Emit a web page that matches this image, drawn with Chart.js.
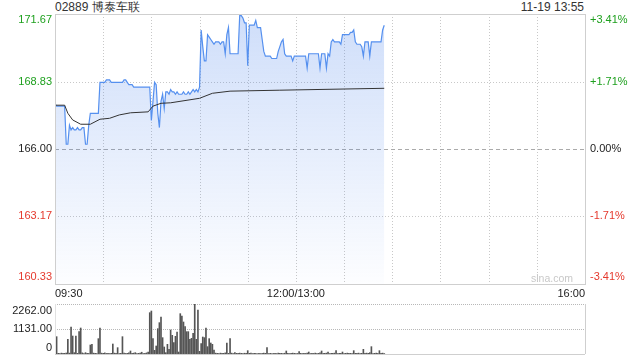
<!DOCTYPE html>
<html>
<head>
<meta charset="utf-8">
<script src="https://cdn.jsdelivr.net/npm/chart.js@4.4.1/dist/chart.umd.min.js"></script>
<style>
body { margin: 0; background: #fff; width: 640px; height: 360px; overflow: hidden; position: relative; font-family: "Liberation Sans", Arial, sans-serif; }
#main { position: absolute; left: 0; top: 0; }
#vol { position: absolute; left: 0; top: 290px; }
.t { position: absolute; font-size: 12px; color: #333; white-space: nowrap; line-height: 14px; }
</style>
</head>
<body>
<div class="t" style="left:55px;top:0px">02889 博泰车联</div>
<div class="t" style="right:56px;top:0px">11-19 13:55</div>
<canvas id="main" width="640" height="300"></canvas>
<canvas id="vol" width="640" height="70"></canvas>
<script>
// minutes since 09:30, lunch break folded (index 150 = 12:00/13:00)
var prevClose = 166.00;
var priceTicks = [160.33, 163.17, 166.00, 168.83, 171.67];
var pctTicks = ['-3.41%', '-1.71%', '0.00%', '+1.71%', '+3.41%'];
var timeLabels = [[0, '09:30'], [150, '12:00/13:00'], [330, '16:00']];
var volTicks = [0, 1131, 2262];
var volTickLabels = ['0', '1131.00', '2262.00'];

var price = [
    167.9, 167.8, 167.8, 167.8, 167.8, 167.8, 167.8, 166.2, 166.2, 167.0,
    166.8, 166.9, 166.8, 166.8, 166.9, 166.8, 166.8, 166.9, 166.9, 166.2,
    166.2, 167.0, 167.5, 167.5, 167.5, 167.5, 167.5, 167.5, 168.8, 168.8,
    168.8, 168.8, 168.9, 168.9, 168.9, 168.8, 168.8, 168.8, 168.8, 168.8,
    168.8, 168.8, 168.8, 168.9, 168.9, 168.8, 168.7, 168.7, 168.7, 168.6,
    168.6, 168.6, 168.6, 168.6, 168.6, 168.6, 168.6, 168.6, 168.6, 168.6,
    167.2, 168.0, 168.8, 168.7, 167.5, 166.9, 168.0, 168.3, 167.7, 168.4,
    168.4, 168.3, 168.5, 168.4, 168.4, 168.3, 168.4, 168.3, 168.3, 168.3,
    168.4, 168.3, 168.3, 168.4, 168.3, 168.4, 168.5, 168.4, 168.5, 168.4,
    168.6, 171.0, 170.3, 169.7, 169.7, 170.8, 170.7, 170.6, 170.5, 170.4,
    170.5, 170.5, 170.5, 170.4, 170.5, 170.5, 170.0, 170.8, 171.1, 170.0,
    170.0, 170.0, 170.0, 170.0, 170.0, 171.6, 171.6, 171.5, 171.3, 171.3,
    169.5, 171.2, 171.2, 171.2, 171.2, 171.4, 171.1, 171.1, 171.1, 170.6,
    170.1, 169.9, 169.9, 169.9, 169.9, 169.8, 169.8, 169.8, 169.8, 170.1,
    170.3, 170.5, 170.6, 170.0, 169.9, 169.9, 169.9, 169.9, 169.7, 169.9,
    169.9, 169.9, 169.9, 169.9, 169.9, 169.9, 169.9, 169.4, 170.0, 170.0,
    170.0, 170.0, 170.0, 170.0, 170.0, 169.4, 170.0, 170.0, 170.0, 169.4,
    170.0, 169.9, 170.5, 170.6, 170.5, 170.5, 170.5, 170.5, 170.4, 170.8,
    170.8, 170.8, 170.8, 170.8, 170.9, 170.9, 171.0, 170.5, 170.4, 170.4,
    170.4, 170.3, 169.9, 170.5, 170.5, 170.5, 169.9, 170.5, 170.5, 170.5,
    170.5, 170.5, 170.5, 170.5, 171.0, 171.2
];

// average price line, read at its bends
var avgMinutes = [0, 6, 8, 11, 16, 22, 28, 34, 40, 47, 58, 61, 66, 72, 90, 98, 109, 140, 205];
var avgPrice = [167.84, 167.84, 167.50, 167.22, 167.04, 167.04, 167.25, 167.29, 167.43, 167.52,
    167.56, 167.80, 167.92, 167.94, 168.13, 168.34, 168.43, 168.47, 168.55];

var volume = [
    287, 784, 30, 20, 40, 25, 30, 45, 663, 40,
    1221, 814, 60, 814, 30, 1010, 1176, 50, 20, 60,
    30, 25, 407, 437, 40, 30, 20, 694, 1176, 40,
    30, 50, 25, 35, 20, 30, 452, 40, 30, 287,
    20, 35, 784, 40, 25, 30, 50, 136, 30, 40,
    60, 20, 30, 45, 80, 20, 35, 50, 90, 1870,
    1945, 694, 166, 362, 1146, 1418, 1674, 739, 317, 60,
    437, 211, 1086, 844, 513, 799, 995, 90, 1825, 1719,
    1448, 1237, 1010, 1010, 663, 709, 935, 2262, 663, 1991,
    120, 467, 769, 739, 1176, 332, 694, 498, 437, 181,
    40, 30, 20, 40, 25, 30, 50, 498, 30, 694,
    40, 20, 60, 30, 25, 40, 30, 20, 35, 25,
    151, 30, 40, 20, 30, 25, 15, 30, 20, 25,
    40, 30, 287, 20, 30, 15, 25, 30, 20, 40,
    25, 30, 20, 35, 136, 30, 20, 25, 40, 30,
    20, 25, 106, 30, 20, 35, 25, 40, 90, 20,
    30, 25, 40, 20, 30, 50, 136, 25, 30, 40,
    90, 20, 30, 25, 40, 151, 20, 30, 25, 90,
    20, 30, 40, 25, 30, 20, 151, 30, 25, 40,
    20, 30, 211, 25, 40, 30, 60, 332, 20, 30,
    40, 25, 151, 30, 40, 20
];

var GREEN = '#1ea01e', RED = '#e5392d', BLACK = '#222';
var FONT = '11px "Liberation Sans", Arial, sans-serif';

function tickColor(v) {
    if (Math.abs(v - prevClose) < 0.001) return BLACK;
    return v > prevClose ? GREEN : RED;
}

function hLine(c, y, x1, x2, color, dash) {
    c.save();
    c.strokeStyle = color;
    c.lineWidth = 1;
    c.setLineDash(dash);
    c.beginPath();
    c.moveTo(x1, Math.round(y) + 0.5);
    c.lineTo(x2, Math.round(y) + 0.5);
    c.stroke();
    c.restore();
}

function vLine(c, x, y1, y2, color, dash) {
    c.save();
    c.strokeStyle = color;
    c.lineWidth = 1;
    c.setLineDash(dash);
    c.beginPath();
    c.moveTo(Math.round(x) + 0.5, y1);
    c.lineTo(Math.round(x) + 0.5, y2);
    c.stroke();
    c.restore();
}

var mainDecor = {
    id: 'mainDecor',
    beforeDatasetsDraw(chart) {
        var c = chart.ctx, a = chart.chartArea, xs = chart.scales.x, ys = chart.scales.y;
        for (var m = 30; m < 330; m += 30) {
            vLine(c, xs.getPixelForValue(m), a.top, a.bottom, '#c8c8c8', [1, 2]);
        }
        priceTicks.forEach(function (v) {
            if (v === priceTicks[0] || v === priceTicks[priceTicks.length - 1]) return;
            if (v === prevClose) hLine(c, ys.getPixelForValue(v), a.left, a.right, '#aaa', [4, 3]);
            else hLine(c, ys.getPixelForValue(v), a.left, a.right, '#c8c8c8', [1, 2]);
        });
    },
    afterDraw(chart) {
        var c = chart.ctx, a = chart.chartArea, xs = chart.scales.x, ys = chart.scales.y;
        c.save();
        c.strokeStyle = '#cfcfcf';
        c.lineWidth = 1;
        c.strokeRect(Math.round(a.left) + 0.5, Math.round(a.top) + 0.5, Math.round(a.right - a.left), Math.round(a.bottom - a.top));
        c.font = FONT;
        c.textBaseline = 'middle';
        priceTicks.forEach(function (v, i) {
            var y = Math.min(Math.max(ys.getPixelForValue(v), a.top + 6), a.bottom - 7);
            c.fillStyle = tickColor(v);
            c.textAlign = 'right';
            c.fillText(v.toFixed(2), a.left - 3, y);
            c.textAlign = 'left';
            c.fillText(pctTicks[i], a.right + 5, y);
        });
        c.fillStyle = BLACK;
        timeLabels.forEach(function (t, i) {
            c.textAlign = i === 0 ? 'left' : (i === timeLabels.length - 1 ? 'right' : 'center');
            c.fillText(t[1], xs.getPixelForValue(t[0]), a.bottom + 10);
        });
        c.fillStyle = '#c8c8c8';
        c.font = '10.5px "Liberation Sans", Arial, sans-serif';
        c.textAlign = 'right';
        c.fillText('sina.com', a.right - 12, a.bottom - 5);
        c.restore();
    }
};

var mainChart = new Chart(document.getElementById('main').getContext('2d'), {
    type: 'line',
    data: {
        datasets: [{
            data: avgMinutes.map(function (m, i) { return { x: m, y: avgPrice[i] }; }),
            borderColor: '#333',
            borderWidth: 1,
            pointRadius: 0,
            tension: 0,
            fill: false,
            order: 0
        }, {
            data: price.map(function (v, i) { return { x: i, y: v }; }),
            borderColor: '#5590ef',
            borderWidth: 1.2,
            pointRadius: 0,
            tension: 0,
            fill: 'start',
            order: 1,
            backgroundColor: function (ctx) {
                var area = ctx.chart.chartArea;
                if (!area) return 'rgba(63,123,235,0.2)';
                var g = ctx.chart.ctx.createLinearGradient(0, area.top, 0, area.bottom);
                g.addColorStop(0, 'rgba(63,123,235,0.25)');
                g.addColorStop(1, 'rgba(63,123,235,0.01)');
                return g;
            }
        }]
    },
    options: {
        responsive: false,
        animation: false,
        layout: { padding: { left: 55, right: 55, top: 14, bottom: 16 } },
        plugins: { legend: { display: false }, tooltip: { enabled: false } },
        scales: {
            x: { type: 'linear', min: 0, max: 330, display: false },
            y: { min: priceTicks[0], max: priceTicks[priceTicks.length - 1], display: false }
        }
    },
    plugins: [mainDecor]
});

var volDecor = {
    id: 'volDecor',
    beforeDatasetsDraw(chart) {
        var c = chart.ctx, a = chart.chartArea, ys = chart.scales.y;
        hLine(c, ys.getPixelForValue(volTicks[2]), a.left, a.right, '#b8b8b8', [1, 1]);
        hLine(c, ys.getPixelForValue(volTicks[1]), a.left, a.right, '#b8b8b8', [1, 1]);
    },
    afterDraw(chart) {
        var c = chart.ctx, a = chart.chartArea, ys = chart.scales.y;
        c.save();
        vLine(c, a.right, a.top, a.bottom, '#cfcfcf', []);
        vLine(c, a.left, a.top, a.bottom, '#e2e2e2', []);
        hLine(c, a.bottom, a.left, a.right, '#cfcfcf', []);
        c.font = FONT;
        c.textBaseline = 'middle';
        c.textAlign = 'right';
        c.fillStyle = BLACK;
        volTicks.forEach(function (v, i) {
            var y = Math.min(Math.max(ys.getPixelForValue(v), a.top + 7), a.bottom - 6);
            c.fillText(volTickLabels[i], a.left - 3, y);
        });
        c.restore();
    }
};

var volChart = new Chart(document.getElementById('vol').getContext('2d'), {
    type: 'bar',
    data: {
        datasets: [{
            data: volume.map(function (v, i) { return { x: i, y: v }; }),
            backgroundColor: '#555',
            barThickness: 1
        }]
    },
    options: {
        responsive: false,
        animation: false,
        layout: { padding: { left: 55, right: 55, top: 14, bottom: 6 } },
        plugins: { legend: { display: false }, tooltip: { enabled: false } },
        scales: {
            x: { type: 'linear', min: 0, max: 330, display: false, offset: false },
            y: { min: 0, max: volTicks[2], display: false }
        }
    },
    plugins: [volDecor]
});
</script>
</body>
</html>
